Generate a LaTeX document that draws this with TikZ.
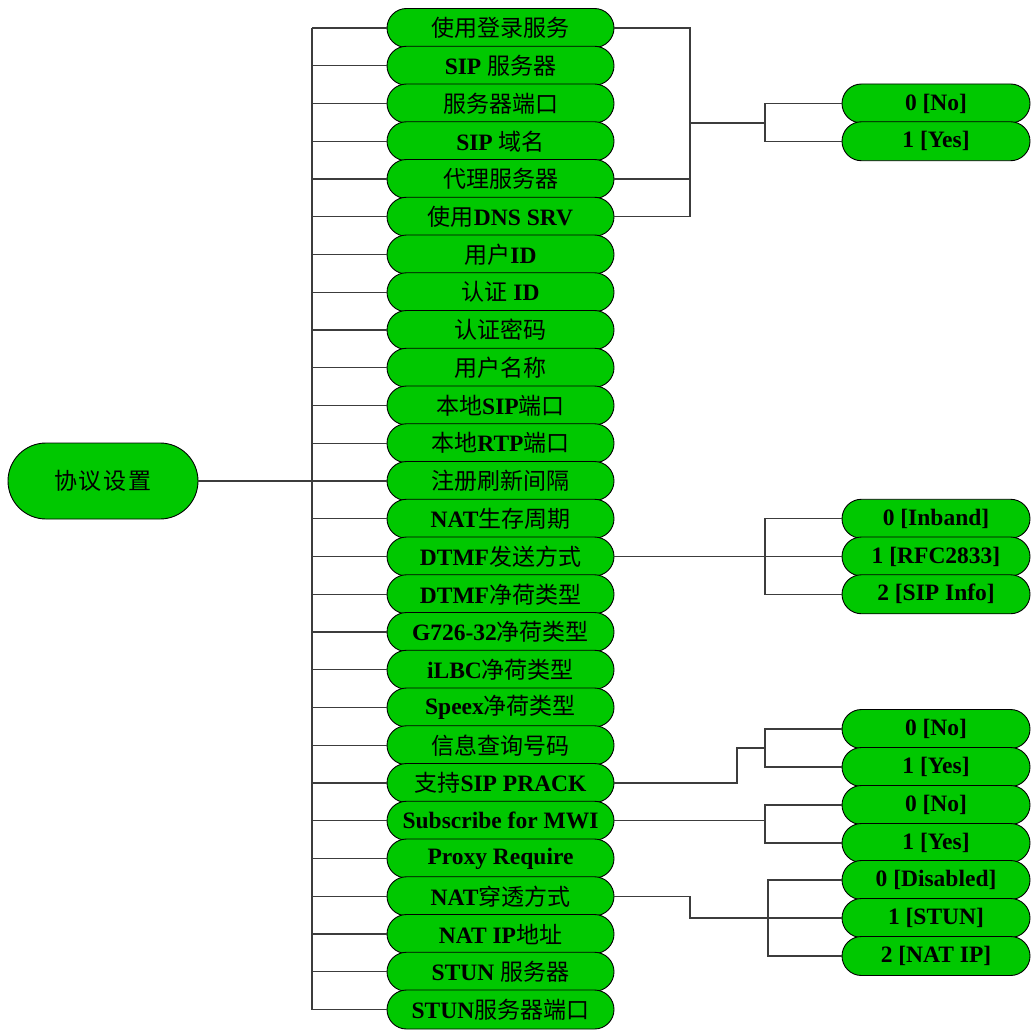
\documentclass[tikz,border=0pt]{standalone}
\usepackage{fontspec}
\setmainfont{Liberation Serif}
\newfontfamily\cjk{Noto Sans CJK SC}
\newcommand{\C}[1]{{\cjk\mdseries\fontsize{23}{24}\selectfont #1}}
\definecolor{boxgreen}{RGB}{0,200,0}
\definecolor{linegray}{RGB}{60,60,60}
\begin{document}
\begin{tikzpicture}[x=1pt,y=-1pt,
  item/.style={draw=black,line width=0.9pt,fill=boxgreen,rounded corners=19.5pt,
    minimum width=227pt,minimum height=39pt,inner sep=0pt,
    font=\bfseries\fontsize{23.5}{24}\selectfont},
  opt/.style={item,minimum width=188pt},
  rootbox/.style={draw=black,line width=0.9pt,fill=boxgreen,rounded corners=38pt,
    minimum width=190pt,minimum height=76pt,inner sep=0pt},
  conn/.style={draw=linegray,line width=1.4pt}]
\useasboundingbox (0,0) rectangle (1032,1032);
% middle column
\def\py#1{28+(#1-1)*37.75}
\node[item] (m1)  at (500.5,{\py{1}})  {\C{使用登录服务}};
\node[item] (m2)  at (500.5,{\py{2}})  {SIP \C{服务器}};
\node[item] (m3)  at (500.5,{\py{3}})  {\C{服务器端口}};
\node[item] (m4)  at (500.5,{\py{4}})  {SIP \C{域名}};
\node[item] (m5)  at (500.5,{\py{5}})  {\C{代理服务器}};
\node[item] (m6)  at (500.5,{\py{6}})  {\C{使用}DNS SRV};
\node[item] (m7)  at (500.5,{\py{7}})  {\C{用户}ID};
\node[item] (m8)  at (500.5,{\py{8}})  {\C{认证} ID};
\node[item] (m9)  at (500.5,{\py{9}})  {\C{认证密码}};
\node[item] (m10) at (500.5,{\py{10}}) {\C{用户名称}};
\node[item] (m11) at (500.5,{\py{11}}) {\C{本地}SIP\C{端口}};
\node[item] (m12) at (500.5,{\py{12}}) {\C{本地}RTP\C{端口}};
\node[item] (m13) at (500.5,{\py{13}}) {\C{注册刷新间隔}};
\node[item] (m14) at (500.5,{\py{14}}) {NAT\C{生存周期}};
\node[item] (m15) at (500.5,{\py{15}}) {DTMF\C{发送方式}};
\node[item] (m16) at (500.5,{\py{16}}) {DTMF\C{净荷类型}};
\node[item] (m17) at (500.5,{\py{17}}) {G726-32\C{净荷类型}};
\node[item] (m18) at (500.5,{\py{18}}) {iLBC\C{净荷类型}};
\node[item] (m19) at (500.5,{\py{19}}) {Speex\C{净荷类型}};
\node[item] (m20) at (500.5,{\py{20}}) {\C{信息查询号码}};
\node[item] (m21) at (500.5,{\py{21}}) {\C{支持}SIP PRACK};
\node[item] (m22) at (500.5,{\py{22}}) {Subscribe for MWI};
\node[item] (m23) at (500.5,{\py{23}}) {Proxy Require};
\node[item] (m24) at (500.5,{\py{24}}) {NAT\C{穿透方式}};
\node[item] (m25) at (500.5,{\py{25}}) {NAT IP\C{地址}};
\node[item] (m26) at (500.5,{\py{26}}) {STUN \C{服务器}};
\node[item] (m27) at (500.5,{\py{27}}) {STUN\C{服务器端口}};
% root
\node[rootbox] (root) at (103,{\py{13}}) {{\cjk\fontsize{23}{24}\selectfont 协\hspace{2pt}议\hspace{2pt}设\hspace{2pt}置}};
% options
\node[opt] (a0) at (936,{\py{3}}) {0 [No]};
\node[opt] (a1) at (936,{\py{4}}) {1 [Yes]};
\node[opt] (d0) at (936,{\py{14}}) {0 [Inband]};
\node[opt] (d1) at (936,{\py{15}}) {1 [RFC2833]};
\node[opt] (d2) at (936,{\py{16}}) {2 [SIP Info]};
\node[opt] (p0) at (936,729) {0 [No]};
\node[opt] (p1) at (936,767) {1 [Yes]};
\node[opt] (w0) at (936,805) {0 [No]};
\node[opt] (w1) at (936,843) {1 [Yes]};
\node[opt] (n0) at (936,880) {0 [Disabled]};
\node[opt] (n1) at (936,918) {1 [STUN]};
\node[opt] (n2) at (936,956) {2 [NAT IP]};
% left bus
\coordinate (bus) at (312,0);
\draw[conn] (m1.west -| bus) -- (m27.west -| bus);
\foreach \i in {1,...,27}{\draw[conn] (m\i.west) -- (m\i.west -| bus);}
\draw[conn] (root.east) -- (m13.west);
% group 1
\coordinate (b1) at (690,123);
\coordinate (b2) at (765,123);
\draw[conn] (m1.east) -- (m1.east -| b1) -- (m6.east -| b1) -- (m6.east);
\draw[conn] (m5.east) -- (m5.east -| b1);
\draw[conn] (b1) -- (b2);
\draw[conn] (a0.west) -- (a0.west -| b2) -- (a1.west -| b2) -- (a1.west);
% DTMF
\draw[conn] (m15.east) -- (d1.west);
\draw[conn] (d0.west) -- (d0.west -| b2) -- (d2.west -| b2) -- (d2.west);
% PRACK
\coordinate (pk) at (737,748);
\draw[conn] (m21.east) -- (m21.east -| pk) -- (pk) -- (pk -| b2);
\draw[conn] (p0.west) -- (p0.west -| b2) -- (p1.west -| b2) -- (p1.west);
% MWI
\draw[conn] (m22.east) -- (m22.east -| b2);
\draw[conn] (w0.west) -- (w0.west -| b2) -- (w1.west -| b2) -- (w1.west);
% NAT
\coordinate (nk) at (690,918);
\coordinate (b3) at (768,918);
\draw[conn] (m24.east) -- (m24.east -| nk) -- (nk) -- (n1.west);
\draw[conn] (n0.west) -- (n0.west -| b3) -- (n2.west -| b3) -- (n2.west);
\end{tikzpicture}
\end{document}
